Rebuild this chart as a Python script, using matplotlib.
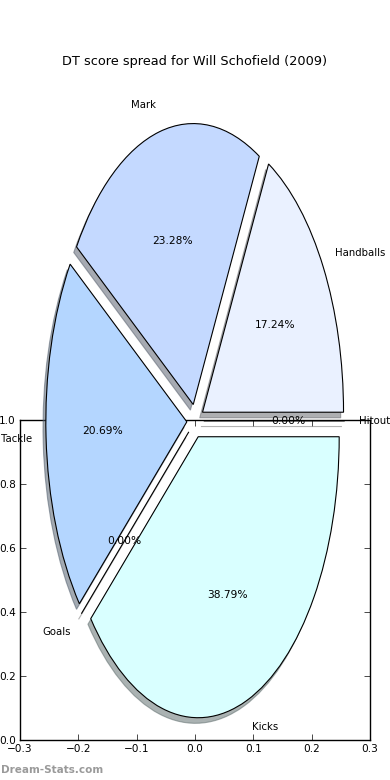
import matplotlib
matplotlib.use("Agg")
import matplotlib.pyplot as plt

# DT score per stat (Will Schofield, 2009)
labels = ["Hitout", "Handballs", "Mark", "Tackle", "Goals", "Kicks"]
scores = [0, 20, 27, 24, 0, 45]
colors = ["#FFFFFF", "#EAF1FF", "#C4D9FF", "#B4D6FF", "#FFFFFF", "#D9FFFF"]
explode = [0.06] * len(scores)

xticks = [-0.3, -0.2, -0.1, 0.0, 0.1, 0.2, 0.3]
yticks = [0.0, 0.2, 0.4, 0.6, 0.8, 1.0]

fig = plt.figure(figsize=(3.9, 7.8), dpi=100)

# empty frame axes left behind the pie
ax_frame = fig.add_axes([20 / 390, 40 / 780, 350 / 390, 320 / 780])
ax_frame.set_xlim(-0.3, 0.3)
ax_frame.set_ylim(0, 1.0)
ax_frame.set_xticks(xticks)
ax_frame.set_yticks(yticks)
ax_frame.set_xticklabels([f"{t:.1f}".replace("-", "\u2212") for t in xticks])
ax_frame.set_yticklabels([f"{t:.1f}" for t in yticks])
ax_frame.tick_params(direction="in", top=True, right=True, length=4, width=0.5,
                     labelsize=7.6, pad=3)
for s in ax_frame.spines.values():
    s.set_linewidth(1.0)

# pie axes over the whole figure, elliptical pie
ax = fig.add_axes([0, 0, 1, 1])
wedges, texts, autotexts = ax.pie(
    scores, labels=labels, colors=colors, explode=explode,
    autopct="%1.2f%%", pctdistance=0.6, labeldistance=1.1,
    shadow={"ox": -0.0144, "oy": -0.0144, "shade": 0.6},
    wedgeprops={"edgecolor": "black", "linewidth": 0.8},
    textprops={"fontsize": 7.7},
)
for t in texts:
    t.set_fontsize(7.3)
ax.set_aspect("auto")
ax.set_xlim(-1.385, 1.381)
ax.set_ylim(-1.278, 1.498)
ax.axis("off")

fig.text(0.5, (780 - 61) / 780, "DT score spread for Will Schofield (2009)",
         ha="center", va="center", fontsize=9.3)
fig.text(0.002, 10 / 780, "Dream-Stats.com", ha="left", va="center",
         fontsize=7.5, fontweight="bold", color="#9a9a9a")

fig.savefig("out.png", dpi=100)
